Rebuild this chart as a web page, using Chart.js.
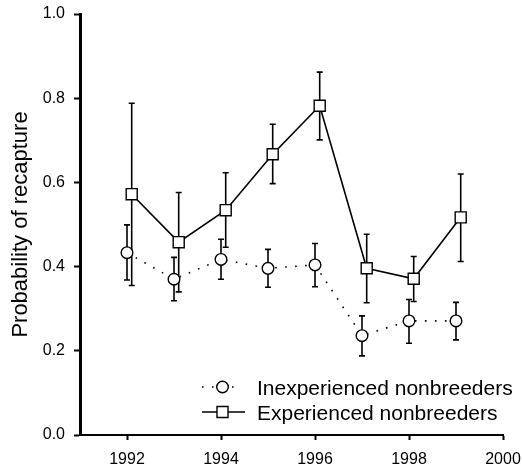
<!DOCTYPE html>
<html>
<head>
<meta charset="utf-8">
<script src="https://cdn.jsdelivr.net/npm/chart.js@4/dist/chart.umd.min.js"></script>
<style>
  body { margin: 0; background: #fff; }
  canvas { display: block; }
</style>
</head>
<body>
<canvas id="recaptureChart" width="522" height="469"></canvas>
<script>
var years = [1992, 1993, 1994, 1995, 1996, 1997, 1998, 1999];

var inexpMean = [0.433, 0.370, 0.417, 0.396, 0.404, 0.236, 0.271, 0.271];
var inexpLow  = [0.368, 0.319, 0.370, 0.351, 0.352, 0.188, 0.218, 0.226];
var inexpHigh = [0.499, 0.422, 0.465, 0.441, 0.455, 0.283, 0.322, 0.315];

var expMean = [0.572, 0.458, 0.534, 0.667, 0.782, 0.396, 0.371, 0.517];
var expLow  = [0.355, 0.340, 0.446, 0.597, 0.701, 0.314, 0.317, 0.412];
var expHigh = [0.788, 0.576, 0.623, 0.738, 0.862, 0.477, 0.424, 0.620];

var xTicks = [1992, 1994, 1996, 1998, 2000];
var yTicks = [0.0, 0.2, 0.4, 0.6, 0.8, 1.0];

// experienced birds are nudged right so the bars don't sit on top of each other
var expShift = 0.1;

var fontFamily = "'Liberation Sans', Arial, Helvetica, sans-serif";

function points(xs, ys, shift) {
  return xs.map(function (x, i) { return { x: x + shift, y: ys[i] }; });
}

// vertical error bars with small caps, drawn under the markers
var errorBars = {
  id: 'errorBars',
  beforeDatasetsDraw: function (chart) {
    var ctx = chart.ctx;
    var xs = chart.scales.x, ys = chart.scales.y;
    chart.data.datasets.forEach(function (ds) {
      ctx.save();
      ctx.strokeStyle = '#000';
      ctx.lineWidth = 1.6;
      ds.data.forEach(function (p, i) {
        var px = xs.getPixelForValue(p.x);
        var top = ys.getPixelForValue(ds.high[i]);
        var bot = ys.getPixelForValue(ds.low[i]);
        ctx.beginPath();
        ctx.moveTo(px, top); ctx.lineTo(px, bot);
        ctx.moveTo(px - 3, top); ctx.lineTo(px + 3, top);
        ctx.moveTo(px - 3, bot); ctx.lineTo(px + 3, bot);
        ctx.stroke();
      });
      ctx.restore();
    });
  }
};

// legend in the lower right of the plot area
var insideLegend = {
  id: 'insideLegend',
  afterDraw: function (chart) {
    var ctx = chart.ctx;
    var area = chart.chartArea;
    var x0 = area.left + 122;
    var y0 = area.bottom - 48;
    chart.data.datasets.forEach(function (ds, i) {
      var y = y0 + i * 25;
      var len = ds.borderDash.length ? 38 : 43;
      ctx.save();
      ctx.strokeStyle = '#000';
      ctx.lineWidth = ds.borderWidth;
      ctx.setLineDash(ds.borderDash);
      ctx.beginPath();
      ctx.moveTo(x0, y); ctx.lineTo(x0 + len, y);
      ctx.stroke();
      ctx.setLineDash([]);
      ctx.fillStyle = '#fff';
      ctx.lineWidth = 1.4;
      Chart.helpers.drawPoint(ctx, { pointStyle: ds.pointStyle, radius: ds.pointRadius, borderWidth: 1.4 }, x0 + 20.5, y);
      ctx.fillStyle = '#000';
      ctx.font = '21px ' + fontFamily;
      ctx.textBaseline = 'middle';
      ctx.textAlign = 'left';
      ctx.fillText(ds.label, x0 + 55, y + 2);
      ctx.restore();
    });
  }
};

var ctx = document.getElementById('recaptureChart').getContext('2d');
var recaptureChart = new Chart(ctx, {
  type: 'line',
  data: {
    datasets: [{
      label: 'Inexperienced nonbreeders',
      data: points(years, inexpMean, 0),
      low: inexpLow,
      high: inexpHigh,
      borderColor: '#000',
      borderWidth: 1.6,
      borderDash: [1.6, 8.4],
      pointStyle: 'circle',
      pointRadius: 5.8,
      pointBackgroundColor: '#fff',
      pointBorderColor: '#000',
      pointBorderWidth: 1.4,
      tension: 0
    }, {
      label: 'Experienced nonbreeders',
      data: points(years, expMean, expShift),
      low: expLow,
      high: expHigh,
      borderColor: '#000',
      borderWidth: 1.6,
      borderDash: [],
      pointStyle: 'rect',
      pointRadius: 7.8,
      pointBackgroundColor: '#fff',
      pointBorderColor: '#000',
      pointBorderWidth: 1.4,
      tension: 0
    }]
  },
  options: {
    responsive: false,
    animation: false,
    layout: {
      padding: { top: 14, right: 19, bottom: 0, left: 0 }
    },
    plugins: {
      legend: { display: false },
      tooltip: { enabled: false }
    },
    scales: {
      x: {
        type: 'linear',
        min: 1991,
        max: 2000,
        afterBuildTicks: function (scale) {
          scale.ticks = xTicks.map(function (v) { return { value: v }; });
        },
        afterFit: function (scale) {
          scale.height = 34;
          scale.paddingLeft = 0;
          scale.paddingRight = 19;
        },
        ticks: {
          color: '#000',
          padding: 10,
          maxRotation: 0,
          font: { family: fontFamily, size: 16 },
          callback: function (v) { return String(v); }
        },
        grid: {
          drawOnChartArea: false,
          drawTicks: true,
          tickLength: 5,
          tickWidth: 2,
          tickColor: '#000'
        },
        border: { display: true, color: '#000', width: 2 }
      },
      y: {
        min: 0,
        max: 1,
        afterBuildTicks: function (scale) {
          scale.ticks = yTicks.map(function (v) { return { value: v }; });
        },
        afterFit: function (scale) {
          scale.width = 80;
          scale.paddingTop = 0;
          scale.paddingBottom = 0;
        },
        ticks: {
          color: '#000',
          padding: 9,
          font: { family: fontFamily, size: 16 },
          callback: function (v) { return v.toFixed(1); }
        },
        grid: {
          drawOnChartArea: false,
          drawTicks: true,
          tickLength: 6,
          tickWidth: 2,
          tickColor: '#000'
        },
        border: { display: true, color: '#000', width: 3 },
        title: {
          display: true,
          text: 'Probability of recapture',
          color: '#000',
          padding: { top: 8, bottom: 0 },
          font: { family: fontFamily, size: 22 }
        }
      }
    }
  },
  plugins: [errorBars, insideLegend]
});
</script>
</body>
</html>
